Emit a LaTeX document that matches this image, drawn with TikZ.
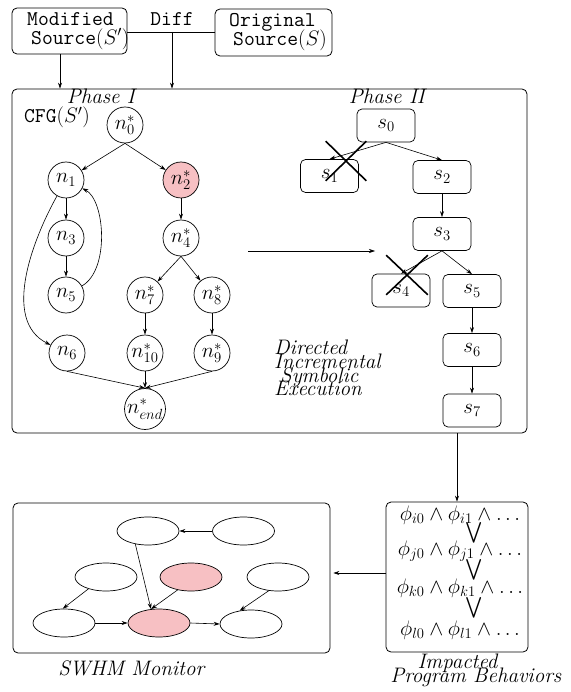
\RequirePackage{fix-cm}
\documentclass[tikz,border=0pt]{standalone}
\usepackage{amsmath}
\usetikzlibrary{arrows.meta,shapes.geometric,shapes.misc}
\definecolor{pinkfill}{RGB}{247,192,195}
\newcommand{\tightlines}{\lineskiplimit=-50pt\relax}
\begin{document}
\begin{tikzpicture}[x=1pt,y=-1pt,
  every node/.style={font=\fontsize{21}{25}\selectfont},
  arr/.style={-{Stealth[length=6pt,width=4pt]}, line width=0.6pt},
  box/.style={draw, rounded corners=5pt, line width=0.8pt, inner sep=0pt},
  cnode/.style={circle, draw, line width=0.7pt, minimum size=36pt, inner sep=0pt, fill=white},
  snode/.style={draw, rounded corners=5pt, line width=0.7pt, minimum width=58pt, minimum height=33pt, inner sep=0pt, fill=white},
  enode/.style={ellipse, draw, line width=0.7pt, minimum width=62pt, minimum height=28pt, inner sep=0pt},
  xmark/.style={cross out, draw, line width=1.6pt, inner sep=0pt},
  twoline/.style={align=left, anchor=west, inner sep=0pt, font=\fontsize{21}{19}\selectfont\tightlines},
]
\useasboundingbox (0,0) rectangle (570,692);

% ---------- sources ----------
\node[box, minimum width=115pt, minimum height=46pt] (mod) at (69.5,31) {};
\node[twoline] (modt) at (27,31) {\texttt{Modified}\\\hspace*{4pt}\texttt{Source}$(S')$};
\node[box, minimum width=117pt, minimum height=47pt] (orig) at (273.5,32.5) {};
\node[twoline] (origt) at (229,32) {\texttt{Original}\\\hspace*{4pt}\texttt{Source}$(S)$};
\node[anchor=base] (diff) at (172,26) {\texttt{Diff}};

\coordinate (dj) at (172,32);
\coordinate (ma) at (60,0);

% ---------- main box ----------
\node[box, minimum width=515pt, minimum height=344pt] (main) at (269.5,261) {};
\draw[line width=0.6pt] (mod.east |- dj) -- (orig.west |- dj);
\draw[arr] (dj) -- (main.north -| dj);
\draw[arr] (mod.south -| ma) -- (main.north -| ma);

\node[anchor=base] (ph1) at (102,104) {\textit{Phase I}};
\node[anchor=base] (ph2) at (388,104) {\textit{Phase II}};
\node[anchor=base] (cfg) at (57,123) {\texttt{CFG}$(S')$};

% ---------- CFG ----------
\node[cnode] (n0) at (125,125) {$n_0^*$};
\node[cnode] (n1) at (66,180) {$n_1$};
\node[cnode, fill=pinkfill] (n2) at (181,180) {$n_2^*$};
\node[cnode] (n3) at (66,238) {$n_3$};
\node[cnode] (n4) at (181,238) {$n_4^*$};
\node[cnode] (n5) at (66,295) {$n_5$};
\node[cnode] (n7) at (145,295) {$n_7^*$};
\node[cnode] (n8) at (212,295) {$n_8^*$};
\node[cnode] (n6) at (67,353) {$n_6$};
\node[cnode] (n10) at (145,353) {$n_{10}^*$};
\node[cnode] (n9) at (212,353) {$n_9^*$};
\node[cnode] (nend) at (145,409) {$n_{end}^*$};

\draw[arr] (n0.south) -- (n1);
\draw[arr] (n0.south) -- (n2);
\draw[arr] (n1) -- (n3);
\draw[arr] (n3) -- (n5);
\draw[arr] (n5) .. controls (110,270) and (105,200) .. (n1);
\draw[arr] (n1) .. controls (35,235) and (0,320) .. (n6);
\draw[arr] (n2) -- (n4);
\draw[arr] (n4.south) -- (n7);
\draw[arr] (n4.south) -- (n8);
\draw[arr] (n7) -- (n10);
\draw[arr] (n8) -- (n9);
\draw[arr] (n6.south) -- (nend.north);
\draw[arr] (n10.south) -- (nend.north);
\draw[arr] (n9.south) -- (nend.north);

% ---------- arrow between phases ----------
\coordinate (ha) at (248,251);
\coordinate (hb) at (375,251);
\draw[arr] (ha) -- (hb);

% ---------- Phase II tree ----------
\node[snode] (s0) at (386,125.5) {$s_0$};
\node[snode] (s1) at (329.5,176) {$s_1$};
\node[snode] (s2) at (442,177) {$s_2$};
\node[snode] (s3) at (442,234) {$s_3$};
\node[snode] (s4) at (401,290.5) {$s_4$};
\node[snode] (s5) at (472,291) {$s_5$};
\node[snode] (s6) at (472,350) {$s_6$};
\node[snode] (s7) at (472,410.5) {$s_7$};

\draw[arr] (s0.south) -- (s1.north);
\draw[arr] (s0.south) -- (s2.north);
\draw[arr] (s2) -- (s3);
\draw[arr] (s3.south) -- (s4.north);
\draw[arr] (s3.south) -- (s5.north);
\draw[arr] (s5) -- (s6);
\draw[arr] (s6) -- (s7);

\node[xmark, minimum width=39pt, minimum height=38pt] (x1) at (346,161) {};
\node[xmark, minimum width=40pt, minimum height=38pt] (x2) at (407,275) {};

\node[align=left, anchor=west, inner sep=0pt, font=\fontsize{21}{13.7}\selectfont\itshape\tightlines] (dise) at (274,368) {Directed\\Incremental\\\hspace*{6pt}Symbolic\\Execution};

% ---------- impacted behaviours ----------
\node[box, minimum width=142pt, minimum height=150pt] (phi) at (457,577) {};
\draw[arr] (main.south -| phi) -- (phi.north);
\node[anchor=base] (p1) at (460,520) {$\phi_{i0}\wedge\phi_{i1}\wedge\ldots$};
\node[anchor=base] (p2) at (460,555) {$\phi_{j0}\wedge\phi_{j1}\wedge\ldots$};
\node[anchor=base] (p3) at (460,593) {$\phi_{k0}\wedge\phi_{k1}\wedge\ldots$};
\node[anchor=base] (p4) at (460,635) {$\phi_{l0}\wedge\phi_{l1}\wedge\ldots$};
\node[inner sep=0pt] (v1) at (474,533) {$\bigvee$};
\node[inner sep=0pt] (v2) at (474,570) {$\bigvee$};
\node[inner sep=0pt] (v3) at (474,608) {$\bigvee$};
\node[anchor=base] (imp1) at (458,668) {\textit{Impacted}};
\node[anchor=base] (imp2) at (476,682) {\textit{Program Behaviors}};

% ---------- SWHM monitor ----------
\node[box, minimum width=317pt, minimum height=150pt] (swhm) at (171.5,578) {};
\coordinate (ay) at (0,573);
\draw[arr, shorten >=3pt] (phi.west |- ay) -- (swhm.east |- ay);
\node[anchor=base] (swl) at (132,675) {\textit{SWHM Monitor}};

\node[enode] (e1) at (148,531) {};
\node[enode] (e2) at (243.5,531) {};
\node[enode] (e3) at (106,577) {};
\node[enode, fill=pinkfill] (e4) at (191,577) {};
\node[enode] (e5) at (278,577) {};
\node[enode] (e6) at (64,623) {};
\node[enode, fill=pinkfill] (e7) at (159,623) {};
\node[enode] (e8) at (251,624) {};

\draw[arr] (e2.west) -- (e1.east);
\draw[arr] (e1.226) -- (e7.120);
\draw[arr] (e4.224) -- (e7.120);
\draw[arr] (e3.214) -- (e6.95);
\draw[arr] (e6.east) -- (e7.west);
\draw[arr] (e7.east) -- (e8.west);
\draw[arr] (e5.236) -- (e8.130);
\end{tikzpicture}
\end{document}
